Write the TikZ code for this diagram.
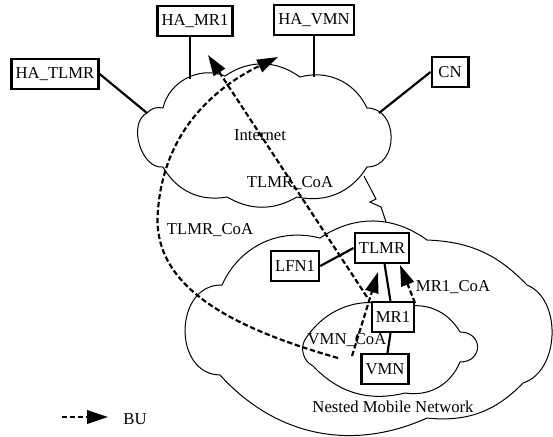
\documentclass[tikz,border=0pt]{standalone}
\usepackage{fontspec}
\setmainfont{Liberation Serif}
\usetikzlibrary{arrows.meta}
\tikzset{
	every node/.style={
		font=\normalsize
	},
	router/.style={
		shape=rectangle,
		draw,
		line width=1.4pt,
		fill=white,
		minimum height=18pt,
		inner xsep=2.5pt,
		inner ysep=2pt
	},
	cloudline/.style={
		line width=0.6pt
	},
	link/.style={
		line width=1.3pt
	},
	bu/.style={
		line width=1.3pt,
		dash pattern=on 3.2pt off 1.6pt,
		-{Triangle[length=12.5pt,width=8pt]}
	}
}

\begin{document}
\begin{tikzpicture}[x=0.6pt,y=-0.6pt]
	\useasboundingbox (0,0) rectangle (553,436);
	
	% Nube Internet
	\coordinate (c1)  at (147,113);
	\coordinate (c1b) at (163,108);
	\coordinate (c2)  at (225,76);
	\coordinate (c3)  at (300,77);
	\coordinate (c4)  at (367,108);
	\coordinate (c5)  at (367,167);
	\coordinate (c6)  at (297,197);
	\coordinate (c7)  at (227,197);
	\coordinate (c8)  at (163,167);
	\draw[cloudline] (c1) to[bend left=30] (c1b) to[bend left=50] (c2)
	to[bend left=35] (c3) to[bend left=40] (c4)
	to[bend left=90,looseness=1.4] (c5) to[bend left=35] (c6)
	to[bend left=30] (c7) to[bend left=35] (c8) to[bend left=80] (c1);
	\node (inet) at (260,135) {Internet};
	
	% Nube de la red movil anidada
	\coordinate (b1) at (222,285);
	\coordinate (b2) at (320,238);
	\coordinate (b3) at (427,240);
	\coordinate (b4) at (527,285);
	\coordinate (b5) at (523,383);
	\coordinate (b6) at (427,418);
	\coordinate (b7) at (220,375);
	\draw[cloudline] (b1) to[bend left=40] (b2) to[bend left=35] (b3)
	to[bend left=22] (b4) to[bend left=70] (b5) to[bend left=26] (b6)
	to[bend left=36] (b7) to[bend left=90,looseness=1.36] (b1);
	\node (nmn) at (393,407) {Nested Mobile Network};
	
	% Nube interior
	\coordinate (i1) at (306,338);
	\coordinate (i6) at (400,308);
	\coordinate (i5) at (460,332);
	\coordinate (i4) at (460,362);
	\coordinate (i3) at (405,393);
	\coordinate (i2) at (313,366);
	\draw[cloudline] (i1) to[bend left=38] (i6) to[bend left=38] (i5)
	to[bend left=90,looseness=2] (i4) to[bend left=38] (i3)
	to[bend left=30] (i2) to[bend left=50] (i1);
	
	% Agentes y nodos
	\node[router] (hatlmr) at (55,74)  {HA\_TLMR};
	\node[router] (hamr1)  at (195,21) {HA\_MR1};
	\node[router] (havmn)  at (314,20) {HA\_VMN};
	\node[router, minimum width=22pt] (cn) at (450,72) {CN};
	\node[router] (tlmr)   at (382,248) {TLMR};
	\node[router] (lfn1)   at (295,266) {LFN1};
	\node[router] (mr1)    at (393,317) {MR1};
	\node[router] (vmn)    at (385,369) {VMN};
	
	% Enlaces
	\coordinate (mrjoin)  at (190,79);
	\coordinate (vmnjoin) at (314,77);
	\coordinate (cnjoin)  at (379,113);
	\draw[link] (hatlmr.east) -- (c1);
	\draw[link] (mrjoin |- hamr1.south) -- (mrjoin);
	\draw[link] (havmn) -- (vmnjoin);
	\draw[link] (cn.west) -- (cnjoin);
	\draw[link] (lfn1.east) -- (tlmr.west);
	\draw[link] (tlmr) -- (mr1);
	\draw[link] (mr1) -- (vmn);
	
	% Enlace inalambrico
	\coordinate (wl1) at (364,176);
	\coordinate (wl2) at (386,222);
	\draw[cloudline] (wl1) -- (376,199) -- (370,202) -- (381,207) -- (wl2);
	
	% Binding updates
	\coordinate (vmnstart) at (338,358);
	\coordinate (vmnend)   at (278,57);
	\coordinate (mrstart)  at (367,297);
	\coordinate (mrend)    at (208,55);
	\coordinate (coastart) at (352,356);
	\coordinate (coaend)   at (378,272);
	\coordinate (mr1start) at (415,303);
	\coordinate (mr1end)   at (400,265);
	\draw[bu] (vmnstart) .. controls (240,330) and (150,290) .. (158,210)
	.. controls (165,120) and (230,80) .. (vmnend);
	\draw[bu] (mrstart) -- (mrend);
	\draw[bu] (coastart) -- (coaend);
	\draw[bu] (mr1start) -- (mr1end);
	
	% Etiquetas
	\node (coa1) at (290,183) {TLMR\_CoA};
	\node (coa2) at (210,230) {TLMR\_CoA};
	\node (coa3) at (347,340) {VMN\_CoA};
	\node (coa4) at (453,287) {MR1\_CoA};
	
	% Leyenda
	\coordinate (legA) at (62,417);
	\coordinate (legB) at (108,417);
	\draw[bu] (legA) -- (legB);
	\node (bu) at (135,419) {BU};
	
\end{tikzpicture}
\end{document}
